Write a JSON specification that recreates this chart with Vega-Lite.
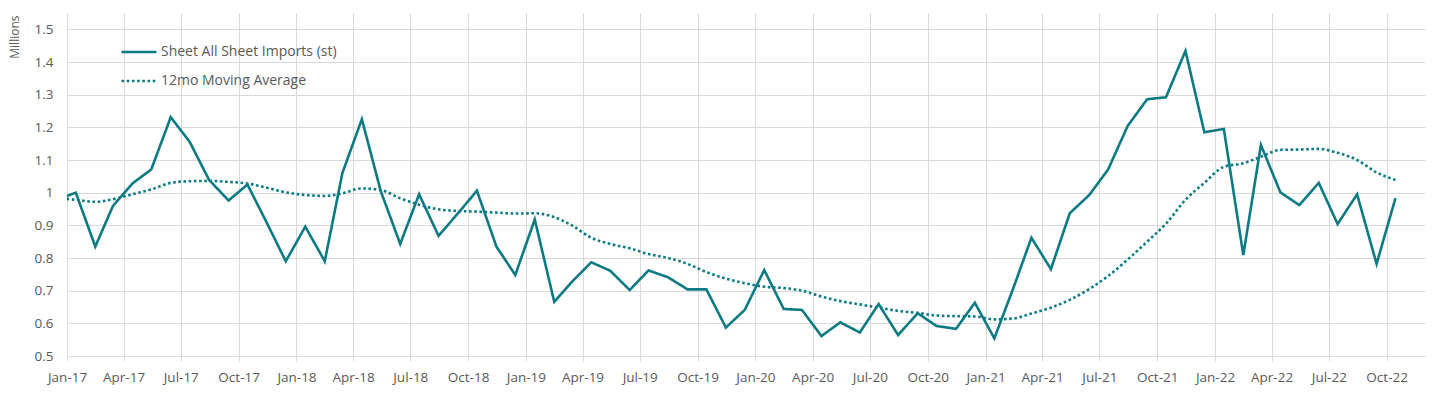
{
  "$schema": "https://vega.github.io/schema/vega-lite/v6.json",
  "width": 1358,
  "height": 343,
  "autosize": {"type": "none"},
  "padding": {"left": 67, "top": 13, "right": 15, "bottom": 37},
  "background": "white",
  "config": {
    "view": {"stroke": null},
    "font": "Open Sans",
    "axis": {"labelColor": "#595959", "labelFontSize": 13.5, "titleColor": "#595959", "gridColor": "#d9d9d9", "domainColor": "#d9d9d9", "tickColor": "#d9d9d9"},
    "legend": {"labelColor": "#595959", "labelFontSize": 14}
  },
  "data": {
    "values": [
      {"date": "2016-12-15", "series": "Sheet All Sheet Imports (st)", "value": 0.978},
      {"date": "2017-01-15", "series": "Sheet All Sheet Imports (st)", "value": 1.0},
      {"date": "2017-02-15", "series": "Sheet All Sheet Imports (st)", "value": 0.835},
      {"date": "2017-03-15", "series": "Sheet All Sheet Imports (st)", "value": 0.959},
      {"date": "2017-04-15", "series": "Sheet All Sheet Imports (st)", "value": 1.028},
      {"date": "2017-05-15", "series": "Sheet All Sheet Imports (st)", "value": 1.071},
      {"date": "2017-06-15", "series": "Sheet All Sheet Imports (st)", "value": 1.231},
      {"date": "2017-07-15", "series": "Sheet All Sheet Imports (st)", "value": 1.156},
      {"date": "2017-08-15", "series": "Sheet All Sheet Imports (st)", "value": 1.039},
      {"date": "2017-09-15", "series": "Sheet All Sheet Imports (st)", "value": 0.976},
      {"date": "2017-10-15", "series": "Sheet All Sheet Imports (st)", "value": 1.025},
      {"date": "2017-11-15", "series": "Sheet All Sheet Imports (st)", "value": 0.907},
      {"date": "2017-12-15", "series": "Sheet All Sheet Imports (st)", "value": 0.79},
      {"date": "2018-01-15", "series": "Sheet All Sheet Imports (st)", "value": 0.896},
      {"date": "2018-02-15", "series": "Sheet All Sheet Imports (st)", "value": 0.79},
      {"date": "2018-03-15", "series": "Sheet All Sheet Imports (st)", "value": 1.06},
      {"date": "2018-04-15", "series": "Sheet All Sheet Imports (st)", "value": 1.225},
      {"date": "2018-05-15", "series": "Sheet All Sheet Imports (st)", "value": 1.005},
      {"date": "2018-06-15", "series": "Sheet All Sheet Imports (st)", "value": 0.843},
      {"date": "2018-07-15", "series": "Sheet All Sheet Imports (st)", "value": 0.995},
      {"date": "2018-08-15", "series": "Sheet All Sheet Imports (st)", "value": 0.868},
      {"date": "2018-09-15", "series": "Sheet All Sheet Imports (st)", "value": 0.937},
      {"date": "2018-10-15", "series": "Sheet All Sheet Imports (st)", "value": 1.006},
      {"date": "2018-11-15", "series": "Sheet All Sheet Imports (st)", "value": 0.835},
      {"date": "2018-12-15", "series": "Sheet All Sheet Imports (st)", "value": 0.748},
      {"date": "2019-01-15", "series": "Sheet All Sheet Imports (st)", "value": 0.918},
      {"date": "2019-02-15", "series": "Sheet All Sheet Imports (st)", "value": 0.666},
      {"date": "2019-03-15", "series": "Sheet All Sheet Imports (st)", "value": 0.727},
      {"date": "2019-04-15", "series": "Sheet All Sheet Imports (st)", "value": 0.787},
      {"date": "2019-05-15", "series": "Sheet All Sheet Imports (st)", "value": 0.761},
      {"date": "2019-06-15", "series": "Sheet All Sheet Imports (st)", "value": 0.702},
      {"date": "2019-07-15", "series": "Sheet All Sheet Imports (st)", "value": 0.762},
      {"date": "2019-08-15", "series": "Sheet All Sheet Imports (st)", "value": 0.741},
      {"date": "2019-09-15", "series": "Sheet All Sheet Imports (st)", "value": 0.704},
      {"date": "2019-10-15", "series": "Sheet All Sheet Imports (st)", "value": 0.704},
      {"date": "2019-11-15", "series": "Sheet All Sheet Imports (st)", "value": 0.587},
      {"date": "2019-12-15", "series": "Sheet All Sheet Imports (st)", "value": 0.641},
      {"date": "2020-01-15", "series": "Sheet All Sheet Imports (st)", "value": 0.763},
      {"date": "2020-02-15", "series": "Sheet All Sheet Imports (st)", "value": 0.644},
      {"date": "2020-03-15", "series": "Sheet All Sheet Imports (st)", "value": 0.641},
      {"date": "2020-04-15", "series": "Sheet All Sheet Imports (st)", "value": 0.561},
      {"date": "2020-05-15", "series": "Sheet All Sheet Imports (st)", "value": 0.603},
      {"date": "2020-06-15", "series": "Sheet All Sheet Imports (st)", "value": 0.572},
      {"date": "2020-07-15", "series": "Sheet All Sheet Imports (st)", "value": 0.659},
      {"date": "2020-08-15", "series": "Sheet All Sheet Imports (st)", "value": 0.564},
      {"date": "2020-09-15", "series": "Sheet All Sheet Imports (st)", "value": 0.631},
      {"date": "2020-10-15", "series": "Sheet All Sheet Imports (st)", "value": 0.592},
      {"date": "2020-11-15", "series": "Sheet All Sheet Imports (st)", "value": 0.583},
      {"date": "2020-12-15", "series": "Sheet All Sheet Imports (st)", "value": 0.663},
      {"date": "2021-01-15", "series": "Sheet All Sheet Imports (st)", "value": 0.554},
      {"date": "2021-02-15", "series": "Sheet All Sheet Imports (st)", "value": 0.712},
      {"date": "2021-03-15", "series": "Sheet All Sheet Imports (st)", "value": 0.862},
      {"date": "2021-04-15", "series": "Sheet All Sheet Imports (st)", "value": 0.766},
      {"date": "2021-05-15", "series": "Sheet All Sheet Imports (st)", "value": 0.937},
      {"date": "2021-06-15", "series": "Sheet All Sheet Imports (st)", "value": 0.993},
      {"date": "2021-07-15", "series": "Sheet All Sheet Imports (st)", "value": 1.071},
      {"date": "2021-08-15", "series": "Sheet All Sheet Imports (st)", "value": 1.204},
      {"date": "2021-09-15", "series": "Sheet All Sheet Imports (st)", "value": 1.286},
      {"date": "2021-10-15", "series": "Sheet All Sheet Imports (st)", "value": 1.292},
      {"date": "2021-11-15", "series": "Sheet All Sheet Imports (st)", "value": 1.434},
      {"date": "2021-12-15", "series": "Sheet All Sheet Imports (st)", "value": 1.185},
      {"date": "2022-01-15", "series": "Sheet All Sheet Imports (st)", "value": 1.195},
      {"date": "2022-02-15", "series": "Sheet All Sheet Imports (st)", "value": 0.809},
      {"date": "2022-03-15", "series": "Sheet All Sheet Imports (st)", "value": 1.146},
      {"date": "2022-04-15", "series": "Sheet All Sheet Imports (st)", "value": 1.001},
      {"date": "2022-05-15", "series": "Sheet All Sheet Imports (st)", "value": 0.962},
      {"date": "2022-06-15", "series": "Sheet All Sheet Imports (st)", "value": 1.03},
      {"date": "2022-07-15", "series": "Sheet All Sheet Imports (st)", "value": 0.904},
      {"date": "2022-08-15", "series": "Sheet All Sheet Imports (st)", "value": 0.995},
      {"date": "2022-09-15", "series": "Sheet All Sheet Imports (st)", "value": 0.782},
      {"date": "2022-10-15", "series": "Sheet All Sheet Imports (st)", "value": 0.983},
      {"date": "2016-12-15", "series": "12mo Moving Average", "value": 0.985},
      {"date": "2017-01-15", "series": "12mo Moving Average", "value": 0.978},
      {"date": "2017-02-15", "series": "12mo Moving Average", "value": 0.972},
      {"date": "2017-03-15", "series": "12mo Moving Average", "value": 0.98},
      {"date": "2017-04-15", "series": "12mo Moving Average", "value": 0.995},
      {"date": "2017-05-15", "series": "12mo Moving Average", "value": 1.01},
      {"date": "2017-06-15", "series": "12mo Moving Average", "value": 1.03},
      {"date": "2017-07-15", "series": "12mo Moving Average", "value": 1.035},
      {"date": "2017-08-15", "series": "12mo Moving Average", "value": 1.036},
      {"date": "2017-09-15", "series": "12mo Moving Average", "value": 1.033},
      {"date": "2017-10-15", "series": "12mo Moving Average", "value": 1.028},
      {"date": "2017-11-15", "series": "12mo Moving Average", "value": 1.015},
      {"date": "2017-12-15", "series": "12mo Moving Average", "value": 1.001},
      {"date": "2018-01-15", "series": "12mo Moving Average", "value": 0.993},
      {"date": "2018-02-15", "series": "12mo Moving Average", "value": 0.99},
      {"date": "2018-03-15", "series": "12mo Moving Average", "value": 0.998},
      {"date": "2018-04-15", "series": "12mo Moving Average", "value": 1.013},
      {"date": "2018-05-15", "series": "12mo Moving Average", "value": 1.008},
      {"date": "2018-06-15", "series": "12mo Moving Average", "value": 0.983},
      {"date": "2018-07-15", "series": "12mo Moving Average", "value": 0.963},
      {"date": "2018-08-15", "series": "12mo Moving Average", "value": 0.949},
      {"date": "2018-09-15", "series": "12mo Moving Average", "value": 0.944},
      {"date": "2018-10-15", "series": "12mo Moving Average", "value": 0.942},
      {"date": "2018-11-15", "series": "12mo Moving Average", "value": 0.939},
      {"date": "2018-12-15", "series": "12mo Moving Average", "value": 0.936},
      {"date": "2019-01-15", "series": "12mo Moving Average", "value": 0.937},
      {"date": "2019-02-15", "series": "12mo Moving Average", "value": 0.925},
      {"date": "2019-03-15", "series": "12mo Moving Average", "value": 0.9},
      {"date": "2019-04-15", "series": "12mo Moving Average", "value": 0.862},
      {"date": "2019-05-15", "series": "12mo Moving Average", "value": 0.843},
      {"date": "2019-06-15", "series": "12mo Moving Average", "value": 0.83},
      {"date": "2019-07-15", "series": "12mo Moving Average", "value": 0.812},
      {"date": "2019-08-15", "series": "12mo Moving Average", "value": 0.8},
      {"date": "2019-09-15", "series": "12mo Moving Average", "value": 0.782},
      {"date": "2019-10-15", "series": "12mo Moving Average", "value": 0.757},
      {"date": "2019-11-15", "series": "12mo Moving Average", "value": 0.737},
      {"date": "2019-12-15", "series": "12mo Moving Average", "value": 0.723},
      {"date": "2020-01-15", "series": "12mo Moving Average", "value": 0.712},
      {"date": "2020-02-15", "series": "12mo Moving Average", "value": 0.708},
      {"date": "2020-03-15", "series": "12mo Moving Average", "value": 0.7},
      {"date": "2020-04-15", "series": "12mo Moving Average", "value": 0.682},
      {"date": "2020-05-15", "series": "12mo Moving Average", "value": 0.668},
      {"date": "2020-06-15", "series": "12mo Moving Average", "value": 0.658},
      {"date": "2020-07-15", "series": "12mo Moving Average", "value": 0.648},
      {"date": "2020-08-15", "series": "12mo Moving Average", "value": 0.638},
      {"date": "2020-09-15", "series": "12mo Moving Average", "value": 0.632},
      {"date": "2020-10-15", "series": "12mo Moving Average", "value": 0.624},
      {"date": "2020-11-15", "series": "12mo Moving Average", "value": 0.622},
      {"date": "2020-12-15", "series": "12mo Moving Average", "value": 0.621},
      {"date": "2021-01-15", "series": "12mo Moving Average", "value": 0.612},
      {"date": "2021-02-15", "series": "12mo Moving Average", "value": 0.615},
      {"date": "2021-03-15", "series": "12mo Moving Average", "value": 0.63},
      {"date": "2021-04-15", "series": "12mo Moving Average", "value": 0.648},
      {"date": "2021-05-15", "series": "12mo Moving Average", "value": 0.672},
      {"date": "2021-06-15", "series": "12mo Moving Average", "value": 0.705},
      {"date": "2021-07-15", "series": "12mo Moving Average", "value": 0.745},
      {"date": "2021-08-15", "series": "12mo Moving Average", "value": 0.795},
      {"date": "2021-09-15", "series": "12mo Moving Average", "value": 0.85},
      {"date": "2021-10-15", "series": "12mo Moving Average", "value": 0.905},
      {"date": "2021-11-15", "series": "12mo Moving Average", "value": 0.978},
      {"date": "2021-12-15", "series": "12mo Moving Average", "value": 1.03},
      {"date": "2022-01-15", "series": "12mo Moving Average", "value": 1.079},
      {"date": "2022-02-15", "series": "12mo Moving Average", "value": 1.09},
      {"date": "2022-03-15", "series": "12mo Moving Average", "value": 1.11},
      {"date": "2022-04-15", "series": "12mo Moving Average", "value": 1.131},
      {"date": "2022-05-15", "series": "12mo Moving Average", "value": 1.132},
      {"date": "2022-06-15", "series": "12mo Moving Average", "value": 1.134},
      {"date": "2022-07-15", "series": "12mo Moving Average", "value": 1.122},
      {"date": "2022-08-15", "series": "12mo Moving Average", "value": 1.1},
      {"date": "2022-09-15", "series": "12mo Moving Average", "value": 1.062},
      {"date": "2022-10-15", "series": "12mo Moving Average", "value": 1.039}
    ],
    "format": {"parse": {"date": "date:'%Y-%m-%d'"}}
  },
  "encoding": {
    "x": {
      "field": "date",
      "type": "temporal",
      "scale": {"domain": [{"year": 2017, "month": 1, "date": 1}, {"year": 2022, "month": 12, "date": 1}]},
      "axis": {
        "title": null,
        "format": "%b-%y",
        "tickCount": {"interval": "month", "step": 3},
        "grid": true,
        "tickSize": 5,
        "labelPadding": 9,
        "labelFlush": false,
        "labelOverlap": false
      }
    },
    "y": {
      "field": "value",
      "type": "quantitative",
      "scale": {"domain": [0.5, 1.55], "nice": false, "zero": false},
      "axis": {
        "title": "Millions",
        "titleFontSize": 12,
        "titleFontWeight": "normal",
        "titleAngle": -90,
        "titleX": -53,
        "titleY": 2,
        "titleAlign": "right",
        "titleBaseline": "middle",
        "values": [0.5, 0.6, 0.7, 0.8, 0.9, 1.0, 1.1, 1.2, 1.3, 1.4, 1.5],
        "format": ".1~f",
        "ticks": false,
        "domain": false,
        "labelPadding": 14
      }
    },
    "color": {
      "field": "series",
      "type": "nominal",
      "scale": {"domain": ["Sheet All Sheet Imports (st)", "12mo Moving Average"], "range": ["#0b7a83", "#0b7a83"]},
      "legend": {
        "title": null,
        "orient": "none",
        "legendX": 53,
        "legendY": 20,
        "symbolType": "stroke",
        "symbolSize": 1225,
        "symbolStrokeWidth": 2.6,
        "labelOffset": 3,
        "labelLimit": 400,
        "rowPadding": 3,
        "padding": 0
      }
    },
    "strokeDash": {
      "field": "series",
      "type": "nominal",
      "scale": {"domain": ["Sheet All Sheet Imports (st)", "12mo Moving Average"], "range": [[1, 0], [2.6, 2.6]]},
      "legend": null
    }
  },
  "layer": [
    {
      "transform": [{"filter": "datum.series === '12mo Moving Average'"}],
      "mark": {"type": "line", "clip": true, "strokeWidth": 2.6, "interpolate": "monotone"}
    },
    {
      "transform": [{"filter": "datum.series === 'Sheet All Sheet Imports (st)'"}],
      "mark": {"type": "line", "clip": true, "strokeWidth": 2.6, "interpolate": "linear"}
    }
  ]
}
